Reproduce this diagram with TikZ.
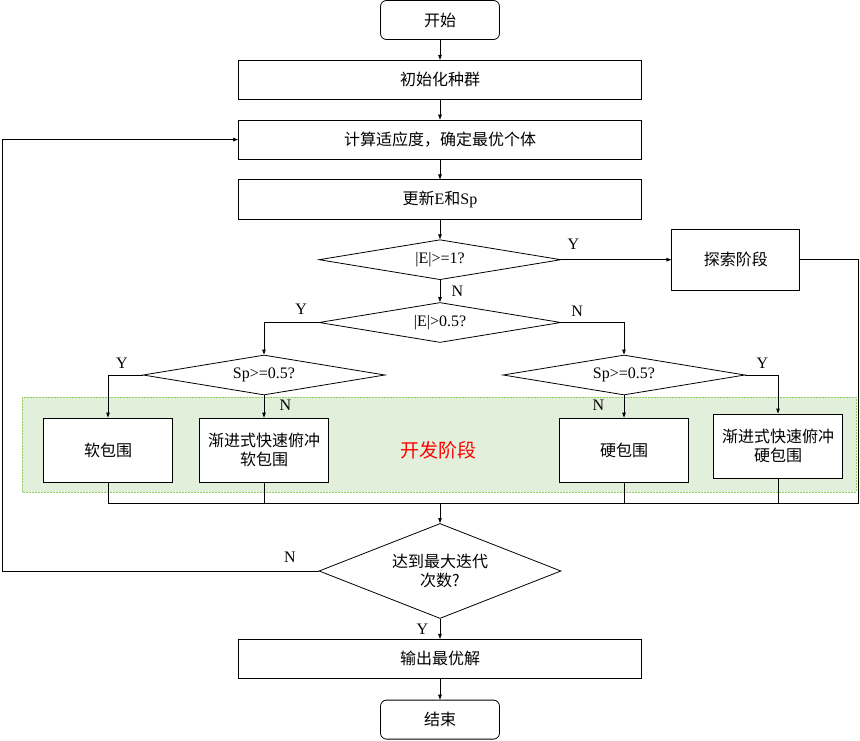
\documentclass[tikz,border=0pt]{standalone}
\usepackage{fontspec}
\setmainfont{Liberation Serif}
\newfontfamily\cjk{Noto Sans CJK SC}
\usepackage{tikz}
\usetikzlibrary{positioning}
\usetikzlibrary{shapes.geometric}
\usetikzlibrary{arrows.meta}

\definecolor{zonefill}{HTML}{E2EFDA}
\definecolor{zoneline}{HTML}{8FD05A}

\tikzset{
	process/.style={draw, line width=0.8pt, fill=white, align=center,
		minimum width=403pt, minimum height=39pt, inner sep=2pt},
	terminal/.style={process, rounded corners=6pt, minimum width=119pt},
	decision/.style={draw, line width=0.8pt, fill=white, diamond, aspect=6,
		inner sep=0pt, align=center, minimum width=242pt, minimum height=40pt},
	subbox/.style={process, minimum width=129pt, minimum height=64pt},
	flow/.style={line width=0.8pt, -{Triangle[length=5pt,width=3.5pt]}},
	joint/.style={line width=0.8pt},
	yn/.style={font=\fontsize{16}{18}\selectfont}
}

\begin{document}
\begin{tikzpicture}[x=1pt, y=1pt, font=\fontsize{16}{19}\selectfont]

\useasboundingbox (0,0) rectangle (860,-741);

% exploitation zone
\draw[fill=zonefill, draw=zoneline, line width=0.8pt,
	dash pattern=on 2pt off 1pt] (22,-397) rectangle (856,-492);
\node[text=red, font=\fontsize{19}{22}\selectfont] (zone) at (438,-450)
	{\cjk 开发阶段};

\node[terminal] (start) at (440,-20) {\cjk 开始};
\node[process, below=20pt of start] (init) {\cjk 初始化种群};
\node[process, below=20pt of init] (fit) {\cjk 计算适应度，确定最优个体};
\node[process, below=20pt of fit] (update) {{\cjk 更新}E{\cjk 和}Sp};

\node[decision, below=20pt of update] (chkone) {|E|>=1?};
\node[process, minimum width=128pt, minimum height=61pt,
	right=110pt of chkone] (explore) {\cjk 探索阶段};
\node[decision, below=22pt of chkone] (chkhalf) {|E|>0.5?};

\node[decision] (spleft) at (264,-375) {Sp>=0.5?};
\node[decision] (spright) at (624,-375) {Sp>=0.5?};

\node[subbox] (soft) at (108,-450) {\cjk 软包围};
\node[subbox] (softdive) at (264,-450) {\cjk 渐进式快速俯冲\\\cjk 软包围};
\node[subbox] (hard) at (624,-450) {\cjk 硬包围};
\node[subbox] (harddive) at (778,-446) {\cjk 渐进式快速俯冲\\\cjk 硬包围};

\node[decision, minimum height=95pt, aspect=2.5] (maxiter) at (440,-571)
	{\cjk 达到最大迭代\\\cjk 次数?};
\node[process, below=20pt of maxiter] (output) {\cjk 输出最优解};
\node[terminal, below=21pt of output] (finish) {\cjk 结束};

\coordinate (merge) at (440,-503);
\coordinate (rightedge) at (858,-503);
\coordinate (leftedge) at (2,0);

% main column
\draw[flow] (start) -- (init);
\draw[flow] (init) -- (fit);
\draw[flow] (fit) -- (update);
\draw[flow] (update) -- (chkone);
\draw[flow] (chkone) -- (chkhalf) node[yn, midway, right=8pt]{N};
\draw[flow] (chkone.east) -- (explore.west)
	node[yn, pos=0.11, above=6pt]{Y};

% branches
\draw[flow] (chkhalf.west) -| (spleft.north)
	node[yn, pos=0.16, above=4pt]{Y};
\draw[flow] (chkhalf.east) -| (spright.north)
	node[yn, pos=0.125, above=2pt]{N};
\draw[flow] (spleft.west) -| (soft.north)
	node[yn, pos=0.3, above=3pt]{Y};
\draw[flow] (spleft.south) -- (softdive.north)
	node[yn, pos=0.45, right=12pt]{N};
\draw[flow] (spright.south) -- (hard.north)
	node[yn, pos=0.45, left=16pt]{N};
\draw[flow] (spright.east) -| (harddive.north)
	node[yn, pos=0.26, above=3pt]{Y};

% merge lines
\draw[joint] (soft.south) |- (merge);
\draw[joint] (softdive.south) |- (merge);
\draw[joint] (hard.south) |- (merge);
\draw[joint] (harddive.south) |- (merge);
\draw[joint] (explore.east) -| (rightedge) -- (merge);
\draw[flow] (merge) -- (maxiter.north);

% loop back and exit
\draw[flow] (maxiter.west) -| (leftedge |- fit.west) -- (fit.west);
\node[yn] (nlabel) at (290,-557) {N};
\draw[flow] (maxiter.south) -- (output.north)
	node[yn, midway, left=8pt]{Y};
\draw[flow] (output) -- (finish);

\end{tikzpicture}
\end{document}
